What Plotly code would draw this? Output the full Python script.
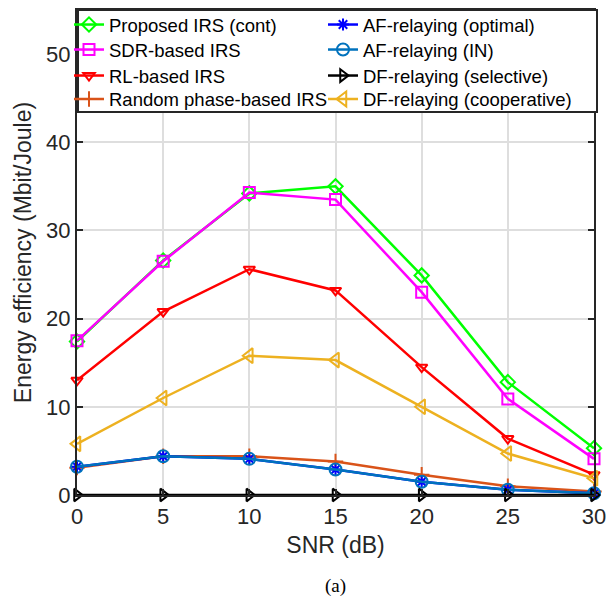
import plotly.graph_objects as go

snr = [0, 5, 10, 15, 20, 25, 30]
proposed = [17.4, 26.6, 34.2, 35.0, 24.9, 12.8, 5.3]
sdr = [17.5, 26.5, 34.3, 33.5, 23.0, 10.9, 4.1]
rl = [13.0, 20.8, 25.6, 23.2, 14.5, 6.4, 2.3]
random_phase = [3.1, 4.4, 4.4, 3.8, 2.3, 1.0, 0.4]
af_opt = [3.2, 4.4, 4.1, 2.9, 1.5, 0.6, 0.2]
af_in = [3.2, 4.4, 4.1, 2.9, 1.5, 0.6, 0.2]
df_sel = [0, 0, 0, 0, 0, 0, 0]
df_coop = [5.8, 11.0, 15.8, 15.3, 10.0, 4.7, 1.9]

names = ["Proposed IRS (cont)", "SDR-based IRS", "RL-based IRS", "Random phase-based IRS",
         "AF-relaying (optimal)", "AF-relaying (IN)", "DF-relaying (selective)",
         "DF-relaying (cooperative)"]
values = [proposed, sdr, rl, random_phase, af_opt, af_in, df_sel, df_coop]
colors = ["#00ff00", "#ff00ff", "#ff0000", "#D95319", "#0000ff", "#0072BD", "#000000", "#EDB120"]
symbols = ["diamond-open", "square-open", "triangle-down-open", "cross-thin-open",
           "asterisk-open", "circle-open", "triangle-right-open", "triangle-left-open"]
sizes = [11, 11, 10, 11, 10, 12, 11, 13]

# legend layout: two columns, four rows (pixel geometry of the plot area)
L, R, T, B = 77, 594, 10, 495
W, H = R - L, B - T
row_px = [25, 50, 76, 99.5]
col_text_px = [109, 363]

fig = go.Figure()
legends = {}
for i, (name, vals, color, sym, size) in enumerate(zip(names, values, colors, symbols, sizes)):
    key = "legend" if i == 0 else f"legend{i + 1}"
    fig.add_trace(go.Scatter(
        x=snr, y=vals, name=name, mode="lines+markers",
        line=dict(color=color, width=2.5),
        marker=dict(symbol=sym, size=size, color=color, line=dict(color=color, width=2)),
        cliponaxis=False, legend=key, showlegend=True,
    ))
    col, row = divmod(i, 4)
    legends[key] = dict(
        x=(col_text_px[col] - 40 - L) / W, y=(B - row_px[row]) / H,
        xanchor="left", yanchor="middle", bgcolor="rgba(0,0,0,0)", borderwidth=0,
        font=dict(family="Liberation Sans, Arial, sans-serif", size=18.5, color="black"),
    )

axis_common = dict(
    showline=True, linecolor="#262626", linewidth=2, mirror="ticks",
    ticks="inside", ticklen=6, tickwidth=2, tickcolor="#262626",
    showgrid=True, gridcolor="#dedede", gridwidth=1.5, zeroline=False,
    tickfont=dict(family="Liberation Sans, Arial, sans-serif", size=22, color="#262626"),
)

fig.update_layout(
    width=615, height=597, showlegend=True,
    margin=dict(l=L, r=615 - R, t=T, b=597 - B, autoexpand=False),
    paper_bgcolor="white", plot_bgcolor="white",
    font=dict(family="Liberation Sans, Arial, sans-serif", size=18, color="#262626"),
    xaxis=dict(range=[0, 30], tickvals=snr, ticklabelstandoff=1,
               title=dict(text="SNR (dB)", font=dict(size=23), standoff=8), **axis_common),
    yaxis=dict(range=[0, 55], tickvals=[0, 10, 20, 30, 40, 50],
               title=dict(text="Energy efficiency (Mbit/Joule)", font=dict(size=23), standoff=8),
               **axis_common),
    shapes=[dict(type="rect", xref="paper", yref="paper",
                 x0=(78 - L) / W, x1=(597 - L) / W, y0=(B - 112) / H, y1=1.0,
                 fillcolor="white", line=dict(color="#262626", width=2), layer="above")],
    annotations=[dict(text="(a)", xref="paper", yref="paper", x=(335 - L) / W, y=(B - 586) / H,
                      xanchor="center", yanchor="middle", showarrow=False,
                      font=dict(family="Liberation Serif, Times New Roman, serif", size=19, color="black"))],
    **legends,
)

fig.write_html("out.html")
